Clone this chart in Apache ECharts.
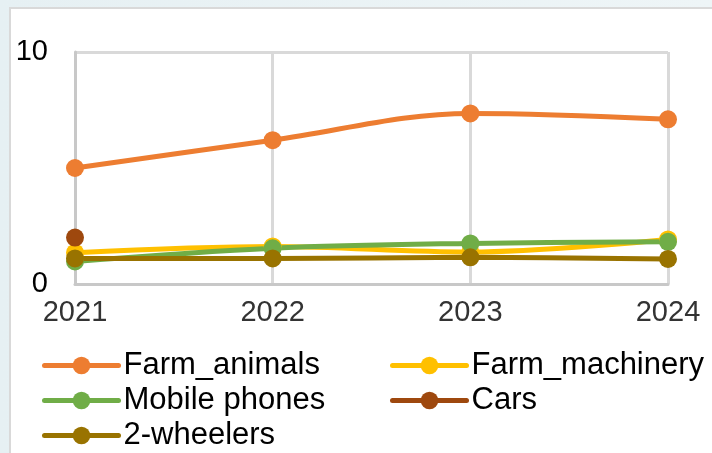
<!DOCTYPE html>
<html>
<head>
<meta charset="utf-8">
<script src="https://cdn.jsdelivr.net/npm/echarts@6/dist/echarts.min.js"></script>
<style>
  html, body { margin: 0; padding: 0; width: 712px; height: 453px; overflow: hidden;
    background: linear-gradient(90deg, #e6f0f3 0%, #eef5f7 100%); }
  #panel { position: absolute; left: 9px; top: 7px; width: 720px; height: 460px;
    background: #ffffff; border: 2px solid #d9d9d9; box-sizing: border-box; }
  #chart { position: absolute; left: 0; top: 0; width: 712px; height: 453px; }
</style>
</head>
<body>
<div id="panel"></div>
<div id="chart"></div>
<script>
const categories = ['2021', '2022', '2023', '2024'];
const farmAnimals = [5.0, 6.2, 7.35, 7.1];
const farmMachinery = [1.35, 1.62, 1.38, 1.92];
const mobilePhones = [0.97, 1.54, 1.75, 1.82];
const cars = [2.0, null, null, null];
const twoWheelers = [1.1, 1.1, 1.15, 1.08];
const yTicks = [0, 10];

const seriesNames = ['Farm_animals', 'Farm_machinery', 'Mobile phones', 'Cars', '2-wheelers'];
const seriesData = [farmAnimals, farmMachinery, mobilePhones, cars, twoWheelers];
const colors = ['#ED7D31', '#FFC000', '#70AD47', '#9E480E', '#997300'];

const chart = echarts.init(document.getElementById('chart'), null, { renderer: 'canvas' });
const fontFam = '"Liberation Sans", Arial, sans-serif';

const legendCommon = {
  orient: 'vertical',
  top: 350,
  height: 105,
  padding: 0,
  itemWidth: 74,
  itemHeight: 22,
  itemGap: 4,
  lineStyle: { width: 5, cap: 'round' },
  textStyle: { fontFamily: fontFam, fontSize: 31, color: '#000', lineHeight: 31 }
};

chart.setOption({
  backgroundColor: 'transparent',
  animation: false,
  color: colors,
  grid: { left: 75, right: 44, top: 52, bottom: 169, containLabel: false },
  xAxis: {
    type: 'category',
    data: categories,
    boundaryGap: false,
    axisLine: { show: true, lineStyle: { color: '#c8c8c8', width: 3 } },
    axisTick: { show: false },
    axisLabel: { fontFamily: fontFam, fontSize: 29, color: '#333333', margin: 14 },
    splitLine: { show: true, lineStyle: { color: '#d9d9d9', width: 3 } }
  },
  yAxis: {
    type: 'value',
    min: yTicks[0],
    max: yTicks[yTicks.length - 1],
    interval: yTicks[1] - yTicks[0],
    axisLine: { show: true, lineStyle: { color: '#c8c8c8', width: 3 } },
    axisTick: { show: false },
    axisLabel: { fontFamily: fontFam, fontSize: 29, color: '#000', margin: 27 },
    splitLine: { show: true, lineStyle: { color: '#d9d9d9', width: 3 } }
  },
  legend: [
    Object.assign({}, legendCommon, { left: 42, data: ['Farm_animals', 'Mobile phones', '2-wheelers'] }),
    Object.assign({}, legendCommon, { left: 390, data: ['Farm_machinery', 'Cars'] })
  ],
  series: seriesNames.map((name, i) => ({
    name: name,
    type: 'line',
    data: seriesData[i],
    smooth: 0.35,
    symbol: 'circle',
    symbolSize: 18,
    showSymbol: true,
    connectNulls: false,
    lineStyle: { width: 5, color: colors[i] },
    itemStyle: { color: colors[i] },
    emphasis: { disabled: true }
  }))
});
</script>
</body>
</html>
